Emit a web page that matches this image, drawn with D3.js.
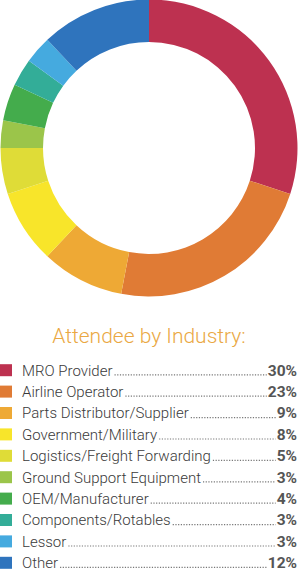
<!DOCTYPE html>
<html lang="en">
<head>
    <meta charset="UTF-8">
    <title>Attendee by Industry</title>
    <script src="https://d3js.org/d3.v7.min.js"></script>
    <style>
        body { margin: 0; background: #fff; }
        .title { font-family: Roboto, sans-serif; font-weight: 300; font-size: 21px; fill: #eaa843; }
        .label { font-family: Roboto, sans-serif; font-weight: 300; font-size: 15px; fill: #3a3a3a; }
        .pct { font-family: Roboto, sans-serif; font-weight: 700; font-size: 15.5px; fill: #555; }
        .dots { stroke: #777; stroke-width: 1.2; stroke-dasharray: 1.2 1.5; }
    </style>
</head>
<body>
<svg width="298" height="579"></svg>
<script>
    // data
    const categories = ["MRO Provider", "Airline Operator", "Parts Distributor/Supplier",
        "Government/Military", "Logistics/Freight Forwarding", "Ground Support Equipment",
        "OEM/Manufacturer", "Components/Rotables", "Lessor", "Other"];
    const values = [30, 23, 9, 8, 5, 3, 4, 3, 3, 12];
    const colors = ["#bd3150", "#e07b35", "#eea935", "#f8e52a", "#dfdc37",
        "#9bc54a", "#44ac4c", "#33ad98", "#45aadf", "#2f74bd"];

    const svg = d3.select("svg");
    const cx = 149, cy = 148;

    const pie = d3.pie().sort(null).value(d => d);
    const arc = d3.arc().innerRadius(106).outerRadius(148.5);

    svg.append("g")
        .attr("transform", `translate(${cx},${cy})`)
        .selectAll("path")
        .data(pie(values))
        .enter().append("path")
        .attr("d", arc)
        .attr("fill", (d, i) => colors[i]);

    svg.append("text")
        .attr("class", "title")
        .attr("x", cx)
        .attr("y", 343)
        .attr("text-anchor", "middle")
        .text("Attendee by Industry:");

    const y = d3.scaleBand().domain(categories).range([359.5, 573.5]);

    const row = svg.append("g").selectAll("g")
        .data(categories)
        .enter().append("g")
        .attr("transform", d => `translate(0,${y(d) + y.bandwidth() / 2})`);

    row.append("rect")
        .attr("x", 0).attr("y", -6)
        .attr("width", 12).attr("height", 12)
        .attr("fill", (d, i) => colors[i]);

    row.append("text")
        .attr("class", "label")
        .attr("x", 22).attr("y", 5.4)
        .text(d => d);

    row.append("text")
        .attr("class", "pct")
        .attr("x", 297).attr("y", 5.4)
        .attr("text-anchor", "end")
        .text((d, i) => values[i] + "%");

    row.each(function () {
        const g = d3.select(this);
        const x1 = 22 + g.select(".label").node().getComputedTextLength() + 2;
        const x2 = 297 - g.select(".pct").node().getComputedTextLength() - 1;
        g.append("line")
            .attr("class", "dots")
            .attr("x1", x1).attr("x2", x2)
            .attr("y1", 4.6).attr("y2", 4.6);
    });
</script>
</body>
</html>
